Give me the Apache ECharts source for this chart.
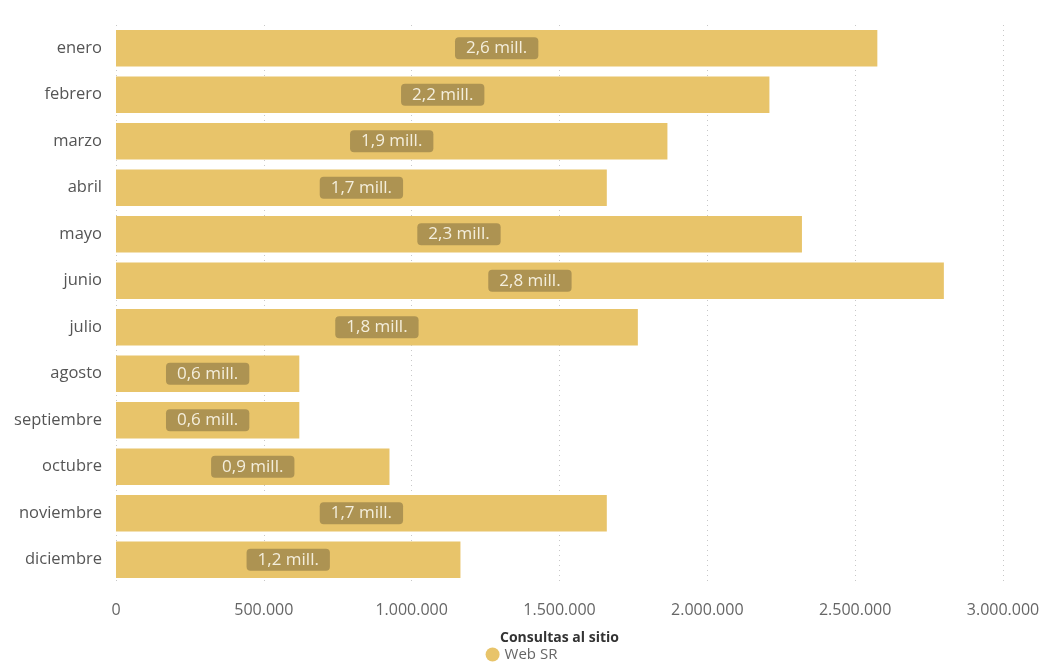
<!DOCTYPE html>
<html><head><meta charset="utf-8">
<script src="https://cdn.jsdelivr.net/npm/echarts@6/dist/echarts.min.js"></script>
<style>html,body{margin:0;padding:0;background:#fff}#c{width:1043px;height:666px}</style>
</head><body><div id="c"></div>
<script>
const categories = ['enero','febrero','marzo','abril','mayo','junio','julio','agosto','septiembre','octubre','noviembre','diciembre'];
const values = [2575000, 2210000, 1865000, 1660000, 2320000, 2800000, 1765000, 620000, 620000, 925000, 1660000, 1165000];
const seriesName = 'Web SR';
const axisName = 'Consultas al sitio';

function fmtThousands(v){ return String(v).replace(/\B(?=(\d{3})+(?!\d))/g, '.'); }
function fmtMill(v){ return (v/1e6).toFixed(1).replace('.', ',') + ' mill.'; }

const chart = echarts.init(document.getElementById('c'));
chart.setOption({
  animation: false,
  textStyle: { fontFamily: 'Open Sans' },
  grid: { left: 116, right: 40, top: 25, bottom: 83 },
  legend: {
    data: [seriesName], bottom: -1, left: 'center',
    icon: 'circle', itemWidth: 14, itemHeight: 14, itemGap: 3,
    textStyle: { color: '#666', fontSize: 15, fontFamily: 'Open Sans' }
  },
  xAxis: {
    type: 'value', min: 0, max: 3000000, interval: 500000,
    name: axisName, nameLocation: 'middle', nameGap: 48,
    nameTextStyle: { fontWeight: 'bold', color: '#333', fontSize: 14 },
    axisLine: { show: false }, axisTick: { show: false },
    axisLabel: { color: '#666', fontSize: 16, margin: 19, formatter: fmtThousands },
    splitLine: { show: true, lineStyle: { type: [1, 4], color: '#c8c8c8', width: 1 } }
  },
  yAxis: {
    type: 'category', data: categories, inverse: true,
    axisLine: { show: false }, axisTick: { show: false },
    axisLabel: { color: '#555', fontSize: 16.5, margin: 14 }
  },
  series: [{
    name: seriesName, type: 'bar', data: values,
    barCategoryGap: '22%',
    itemStyle: { color: '#e8c46a' },
    label: {
      show: true, position: 'inside', formatter: p => fmtMill(p.value),
      color: '#f4eedc', fontSize: 17, backgroundColor: '#ad9352',
      borderRadius: 4, padding: [3, 11, 2, 11]
    }
  }]
});
</script></body></html>
